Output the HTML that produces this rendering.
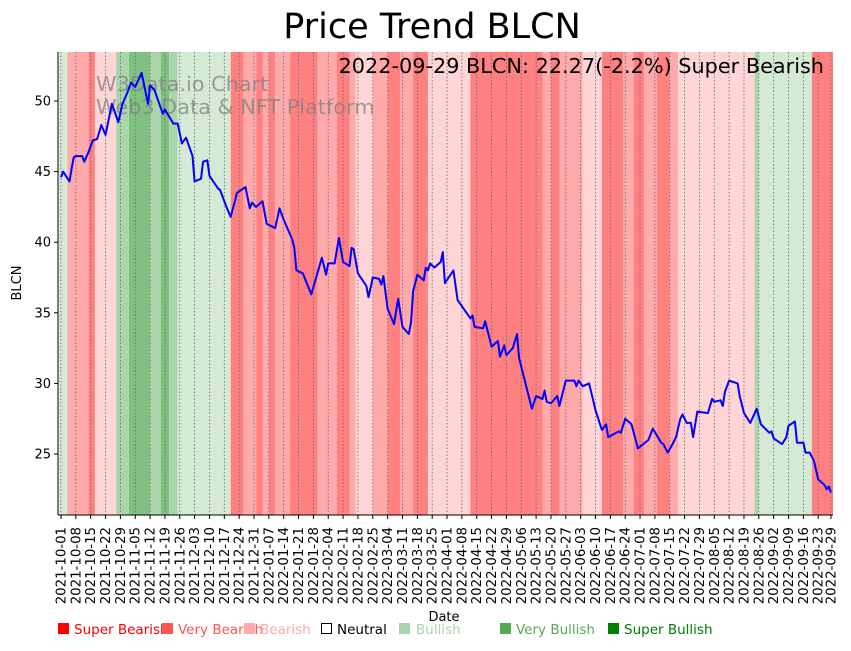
<!DOCTYPE html>
<html><head><meta charset="utf-8">
<style>
html,body{margin:0;padding:0;background:#fff;}
body{width:851px;height:646px;overflow:hidden;font-family:"Liberation Sans","DejaVu Sans",sans-serif;}
svg text{font-family:"DejaVu Sans","Liberation Sans",sans-serif;}
</style></head>
<body>
<svg id="chart" width="851" height="646" viewBox="0 0 851 646" xmlns="http://www.w3.org/2000/svg">
  <text x="432" y="38" font-size="35" text-anchor="middle" fill="#000">Price Trend BLCN</text>
  <g id="bands"></g>
  <g id="grid"></g>
  <g fill="#808080" fill-opacity="0.75" font-size="20.8">
    <text x="96" y="91">W3Data.io Chart</text>
    <text x="96" y="114">Web3 Data &amp; NFT Platform</text>
  </g>
  <path id="priceLine" fill="none" stroke="#0000ff" stroke-width="2" stroke-linejoin="round"/>
  <text x="824" y="73" font-size="20.8" text-anchor="end" fill="#000">2022-09-29 BLCN: 22.27(-2.2%) Super Bearish</text>
  <line x1="58" y1="52" x2="58" y2="515" stroke="#000" stroke-width="1"/>
  <line x1="58" y1="515" x2="833" y2="515" stroke="#000" stroke-width="1"/>
  <g id="yticks"></g>
  <g id="xticks"></g>
  <text transform="translate(21,283) rotate(-90)" font-size="13" text-anchor="middle">BLCN</text>
  <text x="444" y="621" font-size="13" text-anchor="middle">Date</text>
  <g font-size="13.5">
    <g><rect x="58" y="623" width="11" height="11" fill="#ff0000"/><text x="74" y="634" fill="#ff0000">Super Bearish</text></g>
    <g><rect x="162" y="623" width="11" height="11" fill="#ff5555"/><text x="178" y="634" fill="#ff5555">Very Bearish</text></g>
    <g><rect x="244" y="623" width="11" height="11" fill="#ffaaaa"/><text x="260" y="634" fill="#ffaaaa">Bearish</text></g>
    <g><rect x="321.5" y="623.5" width="10" height="10" fill="none" stroke="#000"/><text x="337" y="634" fill="#000">Neutral</text></g>
    <g><rect x="399" y="623" width="11" height="11" fill="#aad4aa"/><text x="416" y="634" fill="#aad4aa">Bullish</text></g>
    <g><rect x="500" y="623" width="11" height="11" fill="#55aa55"/><text x="516" y="634" fill="#55aa55">Very Bullish</text></g>
    <g><rect x="608" y="623" width="11" height="11" fill="#008000"/><text x="624" y="634" fill="#008000">Super Bullish</text></g>
  </g>
</svg>
<script>
// ---- data ----
const startDate = "2021-10-01";
const dayOffsets = [0,1,4,5,6,7,10,11,13,15,17,19,21,24,27,29,31,33,35,38,41,42,44,48,49,53,55,57,59,62,63,66,67,69,70,74,75,78,80,82,83,87,89,90,92,95,97,101,103,105,109,110,111,114,118,123,125,126,129,131,133,136,137,138,140,144,145,147,150,151,152,154,157,159,161,164,165,166,168,171,172,173,174,176,179,180,181,185,187,193,194,195,199,200,203,206,207,209,210,213,215,216,220,222,224,227,228,229,231,234,235,238,242,243,244,246,249,252,255,257,258,263,264,266,269,272,277,279,283,284,286,288,290,292,293,295,297,298,300,305,307,308,311,312,313,315,319,320,322,325,328,330,334,335,336,340,342,343,346,347,350,351,353,355,357,360,361,362,363];
const prices = [44.6,45.0,44.3,45.2,46.0,46.1,46.1,45.7,46.4,47.2,47.3,48.3,47.6,49.8,48.5,49.8,50.5,51.3,51.0,52.0,49.8,51.1,50.8,49.1,49.4,48.4,48.4,47.0,47.4,46.1,44.3,44.5,45.7,45.8,44.7,43.8,43.7,42.5,41.8,42.9,43.5,43.9,42.4,42.8,42.5,42.9,41.3,41.0,42.4,41.6,40.2,39.6,38.0,37.8,36.3,38.9,37.7,38.5,38.5,40.3,38.6,38.3,39.6,39.5,37.8,36.9,36.1,37.5,37.4,37.0,37.6,35.3,34.2,36.0,34.0,33.5,34.3,36.5,37.7,37.3,38.2,38.0,38.5,38.2,38.6,39.3,37.1,38.0,35.9,34.6,34.8,34.0,33.9,34.4,32.6,33.0,31.9,32.7,32.0,32.5,33.5,31.8,29.4,28.2,29.1,28.9,29.5,28.7,28.6,29.1,28.4,30.2,30.2,29.8,30.2,29.8,30.0,28.1,26.7,27.1,26.2,26.6,26.5,27.5,27.1,25.4,26.0,26.8,25.8,25.7,25.1,25.6,26.2,27.5,27.8,27.2,27.2,26.2,28.0,27.9,28.9,28.7,28.8,28.4,29.4,30.2,30.0,29.1,27.9,27.2,28.2,27.1,26.5,26.6,26.1,25.7,26.2,27.0,27.3,25.8,25.8,25.1,25.1,24.5,23.2,22.8,22.5,22.7,22.27];
const bandStarts = [-1,3,13,16,26,32,42,47,51,55,80,86,92,95,98,101,108,121,130,136,139,147,154,160,166,173,193,218,227,231,235,246,255,265,270,275,281,287,291,327,329,354];
const bandEnds   = [3,13,16,26,32,42,47,51,55,80,86,92,95,98,101,108,121,130,136,139,147,154,160,166,173,193,218,227,231,235,246,255,265,270,275,281,287,291,327,329,354,364];
const bandLevels = ["bull","vbear","sbear","bear","vbull","sbull","vbull","sbull","vbull","bull","sbear","vbear","sbear","vbear","sbear","vbear","sbear","vbear","sbear","vbear","bear","vbear","sbear","vbear","sbear","bear","sbear","sbear","vbear","sbear","vbear","bear","sbear","vbear","sbear","vbear","sbear","vbear","bear","vbull","bull","sbear"];
const yTickValues = [25,30,35,40,45,50];
const tickEveryDays = 7;
const lastDay = 363;

// ---- scales ----
const NS = "http://www.w3.org/2000/svg";
const plotTop = 52, plotBottom = 515, plotLeft = 58, plotRight = 833;
function xScale(d){ return 61 + 2.121 * d; }
function yScale(v){ return 101 + (50 - v) * 14.12; }
const levelColor = {sbear:"#ff8080",vbear:"#ffaaaa",bear:"#ffd5d5",bull:"#d5ead5",vbull:"#aad5aa",sbull:"#80c080"};

function mk(tag, attrs, parent){
  const el = document.createElementNS(NS, tag);
  for (const k in attrs) el.setAttribute(k, attrs[k]);
  parent.appendChild(el);
  return el;
}

// bands
const bandsG = document.getElementById("bands");
for (let i = 0; i < bandStarts.length; i++){
  const x1 = Math.max(plotLeft, xScale(bandStarts[i]));
  const x2 = Math.min(plotRight, xScale(bandEnds[i]));
  const r = mk("rect", {x:x1, y:plotTop, width:Math.max(0,x2-x1), height:plotBottom-plotTop, fill:levelColor[bandLevels[i]]}, bandsG);
  
  
}

// x ticks + grid
function fmt(d){
  const base = new Date(startDate + "T00:00:00Z");
  const t = new Date(base.getTime() + d * 86400000);
  return t.toISOString().slice(0,10);
}
const tickDays = [];
for (let d = 0; d <= lastDay; d += tickEveryDays) tickDays.push(d);
if (tickDays[tickDays.length-1] !== lastDay) tickDays.push(lastDay);
const gridG = document.getElementById("grid");
const xtG = document.getElementById("xticks");
tickDays.forEach(d => {
  const x = xScale(d);
  const g = mk("line", {x1:x, y1:plotTop, x2:x, y2:plotBottom, stroke:"#666", "stroke-width":0.8, "stroke-dasharray":"1.5,2"}, gridG);
  
  
  const tk = mk("line", {x1:x, y1:plotBottom, x2:x, y2:plotBottom+4, stroke:"#000"}, xtG);
  
  
  const tx = mk("text", {transform:`translate(${x+4.5},${plotBottom+12}) rotate(-90)`, "font-size":13.3, "text-anchor":"end"}, xtG);
  tx.textContent = fmt(d);
  
  
});

// y ticks
const ytG = document.getElementById("yticks");
yTickValues.forEach(v => {
  const y = yScale(v);
  const tk = mk("line", {x1:plotLeft-4, y1:y, x2:plotLeft, y2:y, stroke:"#000"}, ytG);
  
  
  const tx = mk("text", {x:plotLeft-7, y:y+4.5, "font-size":13, "text-anchor":"end"}, ytG);
  tx.textContent = String(v);
  
  
});

// price line
let dPath = "";
for (let i = 0; i < dayOffsets.length; i++){
  dPath += (i ? "L" : "M") + xScale(dayOffsets[i]).toFixed(1) + "," + yScale(prices[i]).toFixed(1);
}
document.getElementById("priceLine").setAttribute("d", dPath);
</script>
</body></html>
